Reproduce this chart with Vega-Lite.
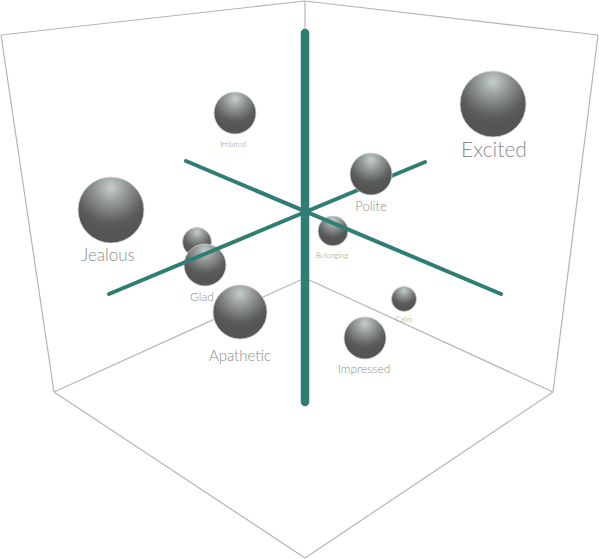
{
  "$schema": "https://vega.github.io/schema/vega-lite/v6.json",
  "width": 599,
  "height": 559,
  "padding": 0,
  "autosize": {"type": "none"},
  "background": "white",
  "config": {"view": {"stroke": null}},
  "datasets": {
    "box": [
      {"edge": "top-left", "x": 1, "y": 35},
      {"edge": "top-left", "x": 305, "y": 1},
      {"edge": "top-right", "x": 305, "y": 1},
      {"edge": "top-right", "x": 598, "y": 35},
      {"edge": "left", "x": 1, "y": 35},
      {"edge": "left", "x": 54, "y": 392},
      {"edge": "right", "x": 598, "y": 35},
      {"edge": "right", "x": 553, "y": 392},
      {"edge": "bottom-left", "x": 54, "y": 392},
      {"edge": "bottom-left", "x": 305, "y": 558},
      {"edge": "bottom-right", "x": 553, "y": 392},
      {"edge": "bottom-right", "x": 305, "y": 558},
      {"edge": "back", "x": 305, "y": 1},
      {"edge": "back", "x": 305, "y": 278},
      {"edge": "floor-left", "x": 54, "y": 392},
      {"edge": "floor-left", "x": 305, "y": 278},
      {"edge": "floor-right", "x": 305, "y": 278},
      {"edge": "floor-right", "x": 553, "y": 392}
    ],
    "axes": [
      {"axis": "a", "x": 186, "y": 161},
      {"axis": "a", "x": 501, "y": 294},
      {"axis": "b", "x": 109, "y": 294},
      {"axis": "b", "x": 425, "y": 162}
    ],
    "vertical": [
      {"axis": "c", "x": 305, "y": 33},
      {"axis": "c", "x": 305, "y": 402}
    ],
    "spheres": [
      {"name": "Excited", "x": 493, "y": 104, "radius": 33, "front": false},
      {"name": "Jealous", "x": 111, "y": 210, "radius": 33, "front": false},
      {"name": "Irritated", "x": 235, "y": 113, "radius": 21, "front": false},
      {"name": "Belonging", "x": 333, "y": 231, "radius": 15, "front": false},
      {"name": "", "x": 197, "y": 242, "radius": 14.5, "front": false},
      {"name": "Glad", "x": 205, "y": 265, "radius": 21, "front": false},
      {"name": "Apathetic", "x": 240, "y": 312, "radius": 27, "front": false},
      {"name": "Calm", "x": 404, "y": 299, "radius": 12.5, "front": false},
      {"name": "Impressed", "x": 365, "y": 338, "radius": 21, "front": false},
      {"name": "Polite", "x": 371, "y": 174, "radius": 21, "front": true}
    ],
    "labels": [
      {"name": "Excited", "x": 494, "y": 151, "pt": 21},
      {"name": "Jealous", "x": 108, "y": 256, "pt": 17},
      {"name": "Irritated", "x": 233, "y": 145, "pt": 7.5},
      {"name": "Polite", "x": 371, "y": 207, "pt": 13},
      {"name": "Belonging", "x": 332, "y": 256, "pt": 7.5},
      {"name": "Glad", "x": 202, "y": 297, "pt": 12},
      {"name": "Apathetic", "x": 240, "y": 356, "pt": 15},
      {"name": "Calm", "x": 404, "y": 320, "pt": 7.5},
      {"name": "Impressed", "x": 364, "y": 369, "pt": 12}
    ]
  },
  "encoding": {
    "x": {"field": "x", "type": "quantitative", "axis": null, "scale": {"domain": [0, 599], "nice": false, "zero": false}},
    "y": {"field": "y", "type": "quantitative", "axis": null, "scale": {"domain": [559, 0], "nice": false, "zero": false}}
  },
  "resolve": {"scale": {"size": "independent"}},
  "layer": [
    {
      "data": {"name": "box"},
      "mark": {"type": "line", "stroke": "#b5b5b5", "strokeWidth": 1.2, "clip": false},
      "encoding": {"detail": {"field": "edge", "type": "nominal"}}
    },
    {
      "data": {"name": "spheres"},
      "transform": [{"filter": "!datum.front"}],
      "mark": {
        "type": "point",
        "shape": "circle",
        "filled": true,
        "opacity": 1,
        "stroke": "#d4d4d4",
        "strokeWidth": 0.8,
        "fill": {
          "gradient": "radial",
          "x1": 0.5, "y1": 0.16, "r1": 0,
          "x2": 0.5, "y2": 0.16, "r2": 0.66,
          "stops": [
            {"offset": 0, "color": "#c3cfcd"},
            {"offset": 0.4, "color": "#8e9291"},
            {"offset": 0.82, "color": "#5a5b5b"},
            {"offset": 1, "color": "#555555"}
          ]
        }
      },
      "encoding": {
        "size": {"field": "radius", "type": "quantitative", "legend": null, "scale": {"type": "pow", "exponent": 2, "domain": [0, 33], "range": [0, 4356]}}
      }
    },
    {
      "data": {"name": "axes"},
      "mark": {"type": "line", "stroke": "#2f7d74", "strokeWidth": 4, "strokeCap": "round"},
      "encoding": {"detail": {"field": "axis", "type": "nominal"}}
    },
    {
      "data": {"name": "vertical"},
      "mark": {"type": "line", "stroke": "#2f7d74", "strokeWidth": 8.5, "strokeCap": "round"},
      "encoding": {"detail": {"field": "axis", "type": "nominal"}}
    },
    {
      "data": {"name": "spheres"},
      "transform": [{"filter": "datum.front"}],
      "mark": {
        "type": "point",
        "shape": "circle",
        "filled": true,
        "opacity": 1,
        "stroke": "#d4d4d4",
        "strokeWidth": 0.8,
        "fill": {
          "gradient": "radial",
          "x1": 0.5, "y1": 0.16, "r1": 0,
          "x2": 0.5, "y2": 0.16, "r2": 0.66,
          "stops": [
            {"offset": 0, "color": "#c3cfcd"},
            {"offset": 0.4, "color": "#8e9291"},
            {"offset": 0.82, "color": "#5a5b5b"},
            {"offset": 1, "color": "#555555"}
          ]
        }
      },
      "encoding": {
        "size": {"field": "radius", "type": "quantitative", "legend": null, "scale": {"type": "pow", "exponent": 2, "domain": [0, 33], "range": [0, 4356]}}
      }
    },
    {
      "data": {"name": "labels"},
      "mark": {"type": "text", "font": "Lato", "fontWeight": 300, "color": "#8c8c8c", "align": "center", "baseline": "middle"},
      "encoding": {
        "text": {"field": "name", "type": "nominal"},
        "size": {"field": "pt", "type": "quantitative", "legend": null, "scale": {"domain": [0, 21], "range": [0, 21]}}
      }
    }
  ]
}
